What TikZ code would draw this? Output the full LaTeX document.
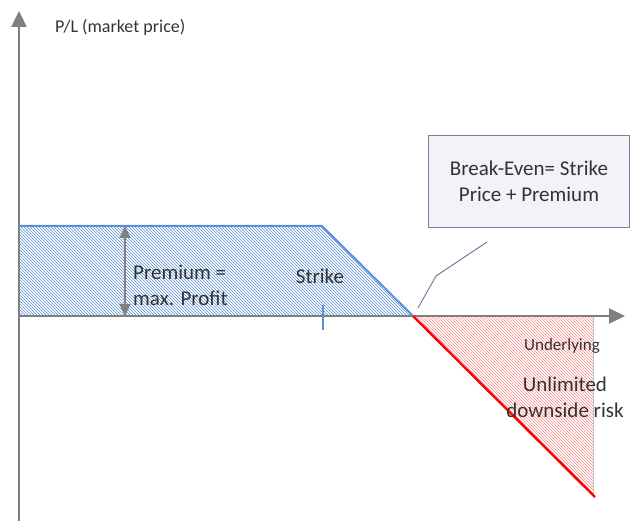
\documentclass[tikz,border=0pt]{standalone}
\usepackage{fontspec}
\setmainfont{Carlito}
\usetikzlibrary{arrows.meta, positioning, patterns}
\definecolor{payblue}{RGB}{91,142,214}
\definecolor{axisgray}{RGB}{128,128,128}
\definecolor{boxfill}{RGB}{241,243,247}
\definecolor{boxline}{RGB}{112,132,162}
\tikzstyle{axis} = [axisgray, line width=2.4pt, -{Triangle[length=16pt, width=15pt]}]
\tikzstyle{span} = [axisgray, line width=1.6pt, {Triangle[length=12pt, width=11pt]}-{Triangle[length=12pt, width=11pt]}]
\tikzstyle{lbl} = [inner sep=0pt, font=\fontsize{21}{26}\selectfont, text=black!80]
\tikzstyle{note} = [rectangle, draw=boxline, fill=boxfill, line width=0.8pt, minimum width=201pt, minimum height=92pt, align=center, font=\fontsize{21}{26}\selectfont, text=black!80]

\begin{document}
\begin{tikzpicture}[x=1pt, y=-1pt]
   \useasboundingbox (0,0) rectangle (630,521);
   % payoff points
   \coordinate (o) at (19,316);
   \coordinate (p0) at (19,226);
   \coordinate (k) at (322,226);
   \coordinate (be) at (413,316);
   \coordinate (xr) at (593,316);
   \coordinate (xl) at (593,497);
   \coordinate (loss) at (595,497);

   % hatched areas
   \fill [pattern=north west lines, pattern color=payblue] (o) -- (p0) -- (k) -- (be) -- cycle;
   \fill [pattern=north west lines, pattern color=red!45] (be) -- (xr) -- (xl) -- cycle;
   \draw [black!25, line width=0.6pt] (xr) -- (xl);

   % axes
   \coordinate (ybot) at (19,521);
   \coordinate (ytop) at (19,11);
   \coordinate (xend) at (625,316);
   \draw [axis] (ybot) -- (ytop);
   \draw [axis] (o) -- (xend);

   % payoff
   \draw [payblue, line width=2pt] (p0) -- (k) -- (be);
   \draw [red, line width=2.4pt] (be) -- (loss);
   \coordinate (tk1) at (323,305);
   \coordinate (tk2) at (323,330);
   \draw [payblue, line width=1.4pt] (tk1) -- (tk2);

   % premium span
   \coordinate (s1) at (125,226);
   \coordinate (s2) at (125,316);
   \draw [span] (s1) -- (s2);

   % labels
   \node (pl) [lbl, font=\fontsize{18}{22}\selectfont, anchor=west] at (55,27) {P/L (market price)};
   \node (prem) [lbl, align=left, anchor=west] at (133,285) {Premium =\\max. Profit};
   \node (strike) [lbl] at (320,276) {Strike};
   \node (under) [lbl, font=\fontsize{17}{21}\selectfont] at (562,346) {Underlying};
   \node (risk) [lbl, align=center] at (565,397) {Unlimited\\downside risk};
   \node (box) [note] at (529,181) {Break-Even= Strike\\Price + Premium};

   % callout
   \coordinate (c1) at (418,308);
   \coordinate (c2) at (436,276);
   \coordinate (c3) at (487,242);
   \draw [boxline, line width=1pt] (c1) -- (c2) -- (c3);
\end{tikzpicture}
\end{document}
